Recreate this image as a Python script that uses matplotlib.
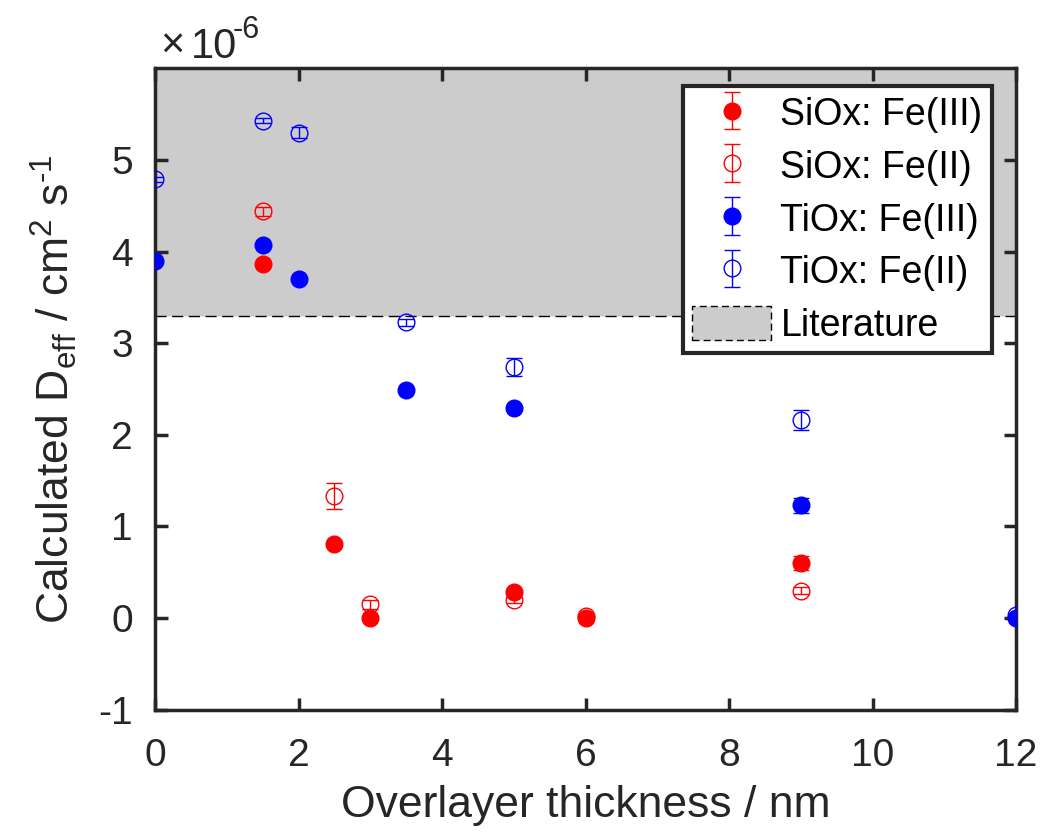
import numpy as np
import matplotlib
matplotlib.use('Agg')
import matplotlib.pyplot as plt
from matplotlib.patches import Patch
from matplotlib.ticker import FuncFormatter

plt.rcParams['font.family'] = ['Liberation Sans', 'DejaVu Sans']
plt.rcParams['mathtext.fontset'] = 'custom'
plt.rcParams['mathtext.rm'] = 'Liberation Sans'
plt.rcParams['mathtext.it'] = 'Liberation Sans'
plt.rcParams['axes.unicode_minus'] = False

# datos (D en unidades de 1e-6 cm2/s)
x_si = [1.5, 2.5, 3, 5, 6, 9]
si_fe3 = [3.87, 0.81, 0.0, 0.29, 0.0, 0.60]
si_fe3_err = [0.02, 0.03, 0.02, 0.03, 0.02, 0.08]
si_fe2 = [4.44, 1.33, 0.15, 0.20, 0.02, 0.30]
si_fe2_err = [0.05, 0.14, 0.05, 0.03, 0.02, 0.04]

x_ti = [0, 1.5, 2, 3.5, 5, 9, 12]
ti_fe3 = [3.90, 4.07, 3.70, 2.49, 2.29, 1.23, 0.0]
ti_fe3_err = [0.02, 0.02, 0.02, 0.02, 0.02, 0.08, 0.02]
ti_fe2 = [4.79, 5.43, 5.30, 3.23, 2.74, 2.16, 0.03]
ti_fe2_err = [0.03, 0.03, 0.06, 0.04, 0.10, 0.11, 0.02]

lit_low = 3.3
scale = 1e-6

dark = '#262626'
red = '#ff0000'
blue = '#0000ff'

fig = plt.figure(figsize=(10.41, 8.34), dpi=100)
ax = fig.add_axes([0.149, 0.149, 0.827, 0.769])

# zona de literatura
ax.axhspan(lit_low * scale, 6 * scale, facecolor='#cccccc', edgecolor='black',
           linestyle=(0, (8, 4)), linewidth=1, zorder=0)

common = dict(linestyle='none', markersize=12, capsize=6, elinewidth=1, capthick=1)

ax.errorbar(x_si, np.array(si_fe3) * scale, yerr=np.array(si_fe3_err) * scale,
            marker='o', color=red, mfc=red, mec=red, label='SiOx: Fe(III)', zorder=3, **common)
ax.errorbar(x_si, np.array(si_fe2) * scale, yerr=np.array(si_fe2_err) * scale,
            marker='o', color=red, mfc='none', mec=red, mew=1, label='SiOx: Fe(II)', zorder=3, **common)
ax.errorbar(x_ti, np.array(ti_fe3) * scale, yerr=np.array(ti_fe3_err) * scale,
            marker='o', color=blue, mfc=blue, mec=blue, label='TiOx: Fe(III)', zorder=3, **common)
ax.errorbar(x_ti, np.array(ti_fe2) * scale, yerr=np.array(ti_fe2_err) * scale,
            marker='o', color=blue, mfc='none', mec=blue, mew=1, label='TiOx: Fe(II)', zorder=3, **common)

ax.set_xlim(0, 12)
ax.set_ylim(-1 * scale, 6 * scale)
ax.set_xticks([0, 2, 4, 6, 8, 10, 12])
ax.set_yticks(np.arange(-1, 6) * scale)
ax.yaxis.set_major_formatter(FuncFormatter(lambda v, p: '%g' % round(v / scale, 6)))

# exponente estilo MATLAB
fig.text(160 / 1041, 1 - 58 / 834, '\u00d7', fontsize=30, color=dark, ha='left', va='baseline')
fig.text(191 / 1041, 1 - 58 / 834, '10', fontsize=30, color=dark, ha='left', va='baseline')
fig.text(233 / 1041, 1 - 38 / 834, '-6', fontsize=22, color=dark, ha='left', va='baseline')

for s in ax.spines.values():
    s.set_linewidth(2.5)
    s.set_color(dark)
ax.tick_params(direction='in', length=9, width=2.5, labelsize=28, colors=dark,
               top=True, right=True)
ax.tick_params(axis='x', pad=20)
ax.tick_params(axis='y', pad=16)

ax.set_xlabel('Overlayer thickness / nm', fontsize=32, color=dark, labelpad=8)
ax.set_ylabel('Calculated D$_{\\mathrm{eff}}$ / cm$^{2}$ s$^{\u20101}$', fontsize=32, color=dark,
              labelpad=14)

handles, labels = ax.get_legend_handles_labels()
handles.append(Patch(facecolor='#cccccc', edgecolor='black', linestyle=(0, (5, 3)), linewidth=1))
labels.append('Literature')
leg = ax.legend(handles, labels, loc='upper right', bbox_to_anchor=(0.972, 0.972),
                fontsize=27, frameon=True, fancybox=False, framealpha=1,
                edgecolor=dark, handlelength=2.1, handleheight=1.0, handletextpad=0.25,
                labelspacing=0.4, borderpad=0.25, borderaxespad=0)
leg.get_frame().set_linewidth(3)

plt.savefig('out.png', dpi=100)
